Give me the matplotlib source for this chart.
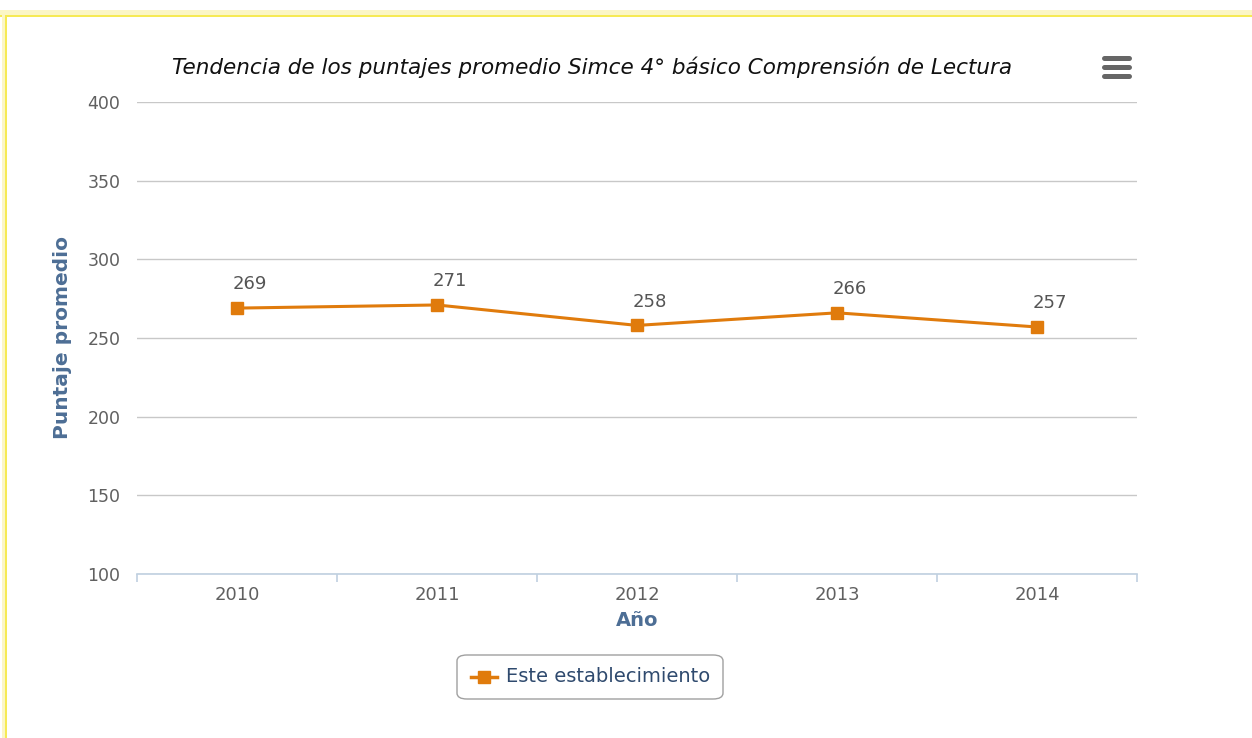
import matplotlib
matplotlib.use("Agg")
import matplotlib.pyplot as plt
from matplotlib.patches import Rectangle, FancyBboxPatch
from matplotlib.lines import Line2D

years = ["2010", "2011", "2012", "2013", "2014"]
puntajes = [269, 271, 258, 266, 257]
y_ticks = [100, 150, 200, 250, 300, 350, 400]

orange = "#E07B0C"
grey_txt = "#606060"
blue_lbl = "#4D6E95"

fig = plt.figure(figsize=(12.52, 7.38), dpi=100)
W, H = 1252, 738

# marco amarillo (arriba e izquierda)
fig.patches.append(Rectangle((0, 1 - 16 / H), 1, 6 / H, transform=fig.transFigure,
                             facecolor="#FBF6C6", edgecolor="none"))
fig.patches.append(Rectangle((0, 1 - 17 / H), 1, 2 / H, transform=fig.transFigure,
                             facecolor="#F6EA55", edgecolor="none"))
fig.patches.append(Rectangle((2 / W, 0), 4 / W, 1 - 10 / H, transform=fig.transFigure,
                             facecolor="#FBF6C6", edgecolor="none"))
fig.patches.append(Rectangle((5 / W, 0), 2 / W, 1 - 15 / H, transform=fig.transFigure,
                             facecolor="#F6EA55", edgecolor="none"))

ax = fig.add_axes([137 / W, 1 - 574 / H, 1000 / W, 472 / H])
x = list(range(len(years)))
ax.plot(x, puntajes, color=orange, lw=2.2, marker="s", ms=9, zorder=3)
for xi, v in zip(x, puntajes):
    ax.annotate(str(v), (xi, v), xytext=(9, 17), textcoords="offset points",
                ha="center", va="center", fontsize=13, color="#555555")

ax.set_xlim(-0.5, len(years) - 0.5)
ax.set_ylim(100, 400)
ax.set_yticks(y_ticks)
ax.set_xticks(x)
ax.set_xticklabels(years)
ax.set_xticks([i - 0.5 for i in range(len(years) + 1)], minor=True)
ax.grid(axis="y", color="#C8C8C8", lw=1)
ax.set_axisbelow(True)
for s in ["top", "right", "left"]:
    ax.spines[s].set_visible(False)
ax.spines["bottom"].set_color("#C0D0E0")
ax.spines["bottom"].set_linewidth(1.2)
ax.tick_params(axis="y", length=0, labelsize=12.5, labelcolor=grey_txt, pad=12)
ax.tick_params(axis="x", which="major", length=0, labelsize=13, labelcolor=grey_txt, pad=9)
ax.tick_params(axis="x", which="minor", length=6, color="#C0D0E0", width=1.2)

fig.text(63 / W, 1 - 338 / H, "Puntaje promedio", rotation=90, ha="center", va="center",
         fontsize=14.5, fontweight="bold", color=blue_lbl)
fig.text(637 / W, 1 - 621 / H, "Año", ha="center", va="center",
         fontsize=14, fontweight="bold", color=blue_lbl)
fig.text(592 / W, 1 - 67 / H, "Tendencia de los puntajes promedio Simce 4° básico Comprensión de Lectura",
         ha="center", va="center", fontsize=15.5, style="italic", color="#111111")

# icono menu
for dy in (-9, 0, 9):
    fig.add_artist(Line2D([1104 / W, 1129 / W], [1 - (67 + dy) / H] * 2, color="#666666",
                          lw=3.6, solid_capstyle="round"))

# leyenda
fig.patches.append(FancyBboxPatch((457 / W, 1 - 699 / H), 266 / W, 44 / H,
                                  boxstyle="round,pad=0,rounding_size=0.008",
                                  transform=fig.transFigure, facecolor="white",
                                  edgecolor="#A0A0A0", lw=1))
fig.add_artist(Line2D([471 / W, 497 / W], [1 - 677 / H] * 2, color=orange, lw=2.5))
fig.add_artist(Line2D([484 / W], [1 - 677 / H], color=orange, marker="s", ms=9, lw=0))
fig.text(506 / W, 1 - 677 / H, "Este establecimiento", ha="left", va="center",
         fontsize=14, color="#2F4A6E")

fig.savefig("out.png", dpi=100)
